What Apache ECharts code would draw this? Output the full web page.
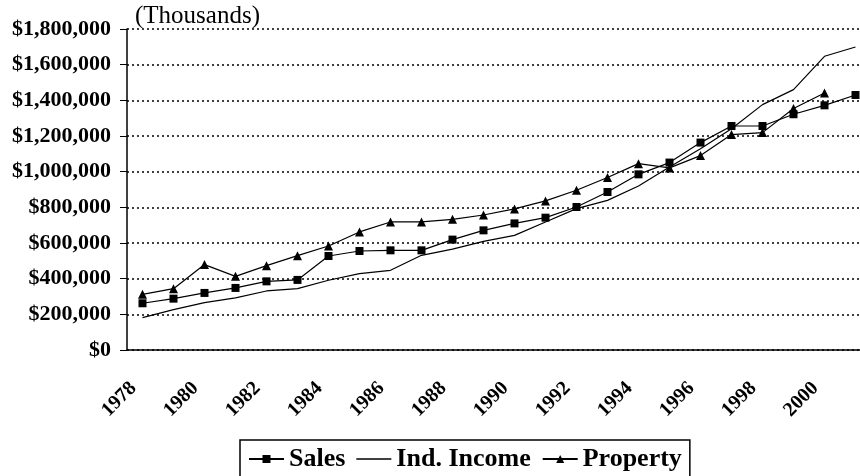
<!DOCTYPE html>
<html>
<head>
<meta charset="utf-8">
<script src="https://cdn.jsdelivr.net/npm/echarts@6/dist/echarts.min.js"></script>
<style>
	html, body { margin: 0; padding: 0; background: #fff; overflow: hidden; }
	#chart { width: 880px; height: 476px; }
</style>
</head>
<body>
<div id="chart"></div>
<script>
var years = ['1978', '1979', '1980', '1981', '1982', '1983', '1984', '1985', '1986', '1987', '1988', '1989',
	'1990', '1991', '1992', '1993', '1994', '1995', '1996', '1997', '1998', '1999', '2000', '2001'];
var sales = [262000, 288000, 320000, 348000, 385000, 393000, 527000, 555000, 559000, 559000, 619000, 671000,
	710000, 742000, 802000, 886000, 985000, 1051000, 1163000, 1256000, 1256000, 1322000, 1372000, 1430000];
var income = [182000, 226000, 266000, 292000, 331000, 344000, 391000, 428000, 447000, 531000, 566000, 609000,
	643000, 718000, 793000, 839000, 920000, 1026000, 1129000, 1241000, 1376000, 1460000, 1647000, 1699000];
var property = [312000, 344000, 479000, 413000, 473000, 529000, 583000, 662000, 718000, 718000, 733000, 757000,
	791000, 836000, 896000, 967000, 1045000, 1021000, 1090000, 1208000, 1219000, 1354000, 1441000, null];

var font = 'Liberation Serif';
var chart = echarts.init(document.getElementById('chart'));
var option = {
	backgroundColor: '#fff',
	animation: false,
	title: {
		text: '(Thousands)',
		left: 130,
		top: -1,
		textStyle: { fontFamily: font, fontSize: 25, fontWeight: 'normal', color: '#000' }
	},
	grid: {
		left: 127,
		top: 29,
		width: 744,
		height: 321
	},
	legend: {
		left: 240,
		top: 440,
		width: 470,
		padding: [6, 8, 14, 8],
		borderColor: '#000',
		borderWidth: 1.5,
		itemWidth: 35,
		itemHeight: 10,
		itemGap: 11,
		textStyle: { fontFamily: font, fontSize: 26, fontWeight: 'bold', color: '#000' },
		data: [
			{ name: 'Sales' },
			{ name: 'Ind. Income', icon: 'path://M0,0H35V1.6H0Z' },
			{ name: 'Property' }
		]
	},
	xAxis: {
		type: 'category',
		data: years,
		boundaryGap: true,
		axisLine: { lineStyle: { color: '#000', width: 1.5 } },
		axisTick: { interval: 0, length: 6, lineStyle: { color: '#000' } },
		axisLabel: {
			interval: 1,
			rotate: 45,
			margin: 26,
			padding: [0, 13, 0, 0],
			fontFamily: font,
			fontSize: 20,
			fontWeight: 'bold',
			color: '#000'
		},
		splitLine: { show: false }
	},
	yAxis: {
		type: 'value',
		min: 0,
		max: 1800000,
		interval: 200000,
		axisLine: { show: true, lineStyle: { color: '#000', width: 1.5 } },
		axisTick: { show: true, length: 7, lineStyle: { color: '#000' } },
		axisLabel: {
			margin: 16,
			fontFamily: font,
			fontSize: 22,
			fontWeight: 'bold',
			color: '#000',
			formatter: function(v) { return '$' + v.toLocaleString('en-US'); }
		},
		splitLine: { lineStyle: { color: '#000', type: [2, 3], width: 1.5 } }
	},
	series: [{
		name: 'Sales',
		type: 'line',
		data: sales,
		symbol: 'rect',
		symbolSize: 8,
		itemStyle: { color: '#000' },
		lineStyle: { color: '#000', width: 1.2 }
	}, {
		name: 'Ind. Income',
		type: 'line',
		data: income,
		symbol: 'none',
		itemStyle: { color: '#000' },
		lineStyle: { color: '#000', width: 1.2 }
	}, {
		name: 'Property',
		type: 'line',
		data: property,
		symbol: 'triangle',
		symbolSize: 9,
		itemStyle: { color: '#000' },
		lineStyle: { color: '#000', width: 1.2 }
	}]
};
chart.setOption(option);
</script>
</body>
</html>
